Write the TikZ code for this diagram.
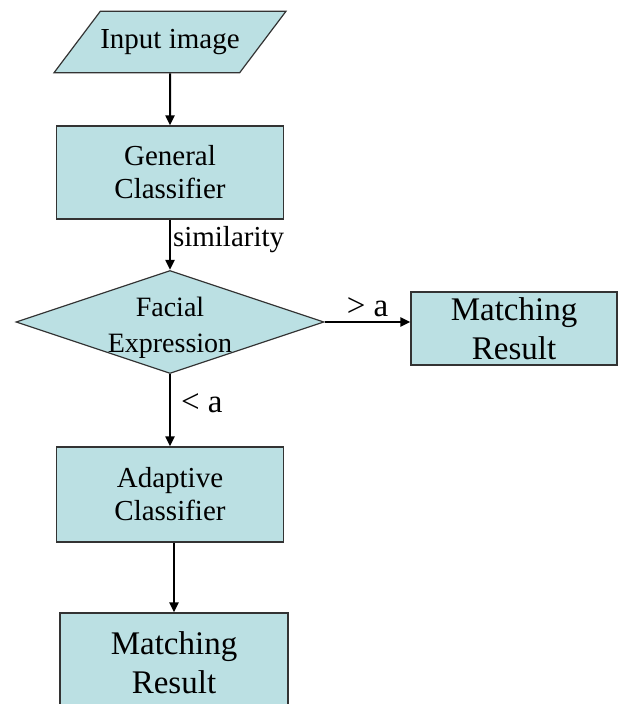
\documentclass[tikz,border=0pt]{standalone}
\usepackage{fontspec}
\setmainfont{Liberation Serif}
\usepackage{tikz}
\usetikzlibrary{arrows.meta}
\usetikzlibrary{shapes.geometric}
\definecolor{boxfill}{RGB}{187,224,227}

\begin{document}
\begin{tikzpicture}[x=0.5pt,y=-0.5pt,
    block/.style={draw=black!80, line width=0.6pt, fill=boxfill, align=center, inner sep=0pt},
    flow/.style={line width=1pt, -{Triangle[length=5pt,width=4.5pt]}},
    smalltext/.style={font=\fontsize{14.5}{16.5}\selectfont},
    bigtext/.style={font=\fontsize{16.5}{19.5}\selectfont}]
    %\draw[step=50, gray, very thin] (0,0) grid (621,704);
    \useasboundingbox (0,0) rectangle (621,704);

    \node[block, smalltext, trapezium, trapezium left angle=53, trapezium right angle=127,
          inner xsep=0pt, inner ysep=9pt] (input) at (170,42) {Input image};
    \node[block, smalltext, minimum width=113.5pt, minimum height=46.5pt] (general) at (170,172.5) {General\\Classifier};
    \node[block, diamond, aspect=3, minimum width=154pt, minimum height=51.5pt,
          label={[font=\fontsize{14}{18}\selectfont, align=center, yshift=-3pt]center:Facial\\Expression}] (decision) at (170,322) {};
    \node[block, bigtext, minimum width=103pt, minimum height=36.5pt] (match1) at (514,328.5) {Matching\\Result};
    \node[block, smalltext, minimum width=113.5pt, minimum height=47.5pt] (adaptive) at (170,494.5) {Adaptive\\Classifier};
    \node[block, bigtext, minimum width=114pt, minimum height=49.5pt] (match2) at (174,662.5) {Matching\\Result};

    \draw[flow] (input) -- (general);
    \draw[flow] (general) -- node[right, pos=0.4, inner sep=1pt, smalltext] {similarity} (decision);
    \draw[flow] (decision.east) -- node[above, inner sep=2pt, bigtext] {> a} (decision.east -| match1.west);
    \draw[flow] (decision) -- node[right, pos=0.4, inner sep=5pt, bigtext] {< a} (adaptive);
    \draw[flow] (adaptive.south -| match2.north) -- (match2.north);
\end{tikzpicture}
\end{document}
